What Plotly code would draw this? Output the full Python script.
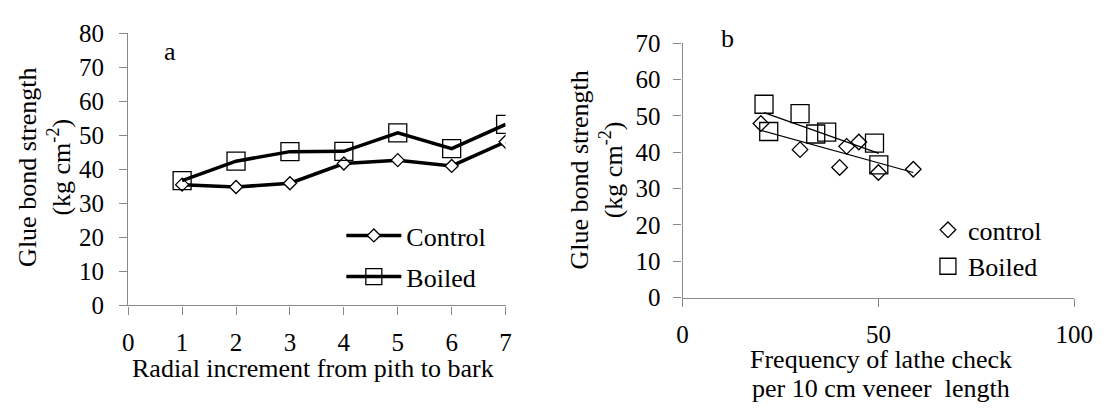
import numpy as np
import plotly.graph_objects as go

# ---- data (panel a) ----
increments = [1, 2, 3, 4, 5, 6, 7]
control_a = [35.5, 34.8, 35.9, 41.7, 42.7, 41.0, 48.1]
boiled_a = [36.7, 42.4, 45.2, 45.3, 50.7, 46.1, 53.2]

# ---- data (panel b) ----
check_control = [20.0, 30.0, 40.1, 41.9, 45.0, 50.0, 58.9]
strength_control = [47.9, 40.7, 35.8, 41.6, 42.8, 34.4, 35.3]
check_boiled = [20.8, 22.0, 30.0, 34.0, 36.8, 49.0, 50.1]
strength_boiled = [53.2, 45.7, 50.6, 45.0, 45.5, 42.5, 36.5]

xticks_a = [0, 1, 2, 3, 4, 5, 6, 7]
yticks_a = [0, 10, 20, 30, 40, 50, 60, 70, 80]
xticks_b = [0, 50, 100]
yticks_b = [0, 10, 20, 30, 40, 50, 60, 70]

FONT = "Liberation Serif"
FS = 26      # titles, legend, panel letters
FS_TICK = 25
AX = "#898989"
W, H = 1119, 415

fig = go.Figure()

# panel a
fig.add_trace(go.Scatter(x=increments, y=control_a, mode="lines+markers", name="Control",
                         line=dict(color="black", width=3.5),
                         marker=dict(symbol="diamond", size=10, color="white",
                                     line=dict(color="black", width=1.3)),
                         xaxis="x", yaxis="y", legend="legend"))
fig.add_trace(go.Scatter(x=increments, y=boiled_a, mode="lines+markers", name="Boiled",
                         line=dict(color="black", width=3.5),
                         marker=dict(symbol="square-open", size=18, color="black",
                                     line=dict(color="black", width=1.3)),
                         xaxis="x", yaxis="y", legend="legend2"))

# panel b
fig.add_trace(go.Scatter(x=check_control, y=strength_control, mode="markers", name="control",
                         marker=dict(symbol="diamond-open", size=12, color="black",
                                     line=dict(color="black", width=1.3)),
                         xaxis="x2", yaxis="y2", legend="legend3"))
fig.add_trace(go.Scatter(x=check_boiled, y=strength_boiled, mode="markers", name="Boiled",
                         marker=dict(symbol="square-open", size=18, color="black",
                                     line=dict(color="black", width=1.3)),
                         xaxis="x2", yaxis="y2", legend="legend4"))

# linear trend lines computed from the data
for xs, ys in [(check_boiled, strength_boiled), (check_control, strength_control)]:
    m, b = np.polyfit(xs, ys, 1)
    xr = np.array([min(xs), max(xs)])
    fig.add_trace(go.Scatter(x=xr, y=m * xr + b, mode="lines", showlegend=False,
                             line=dict(color="black", width=1.2),
                             xaxis="x2", yaxis="y2", hoverinfo="skip"))

def px_x(p):
    return p / W

def px_y(p):
    return 1 - p / H

axis_common = dict(showline=True, linecolor=AX, linewidth=1.3, ticks="outside",
                   tickcolor=AX, tickwidth=1.3, ticklen=8, showgrid=False, zeroline=False,
                   tickfont=dict(family=FONT, size=FS_TICK, color="black"))

leg_common = dict(xanchor="left", yanchor="middle", bgcolor="rgba(0,0,0,0)",
                  font=dict(family=FONT, size=FS, color="black"))

fig.update_layout(
    width=W, height=H,
    margin=dict(l=0, r=0, t=0, b=0),
    paper_bgcolor="white", plot_bgcolor="white",
    font=dict(family=FONT, size=FS, color="black"),
    xaxis=dict(domain=[px_x(125), px_x(511)], range=[0, 7], tickvals=xticks_a,
               anchor="y", ticklabelstandoff=6, **axis_common),
    yaxis=dict(domain=[px_y(312.7), px_y(21.7)], range=[0, 80], tickvals=yticks_a,
               anchor="x", ticklabelstandoff=10, **axis_common),
    xaxis2=dict(domain=[px_x(692), px_x(1092.7)], range=[0, 100], tickvals=xticks_b,
                anchor="y2", ticklabelstandoff=6, **axis_common),
    yaxis2=dict(domain=[px_y(304.3), px_y(32.3)], range=[0, 70], tickvals=yticks_b,
                anchor="x2", ticklabelstandoff=8, **axis_common),
    legend=dict(x=px_x(343), y=px_y(238), itemwidth=55, **leg_common),
    legend2=dict(x=px_x(343), y=px_y(282), itemwidth=55, **leg_common),
    legend3=dict(x=px_x(943), y=px_y(232), **leg_common),
    legend4=dict(x=px_x(943), y=px_y(271), **leg_common),
)

ann = dict(xref="paper", yref="paper", showarrow=False, font=dict(family=FONT, size=FS, color="black"))
fig.add_annotation(text="Glue bond strength<br>(kg cm<sup>-2</sup>)", textangle=-90,
                   x=px_x(39.5), y=px_y(165), xanchor="center", yanchor="middle", **ann)
fig.add_annotation(text="Glue bond strength<br>(kg cm<sup>-2</sup>)", textangle=-90,
                   x=px_x(604), y=px_y(168), xanchor="center", yanchor="middle", **ann)
fig.add_annotation(text="Radial increment from pith to bark",
                   x=px_x(314), y=px_y(380.5), xanchor="center", yanchor="middle", **ann)
fig.add_annotation(text="Frequency of lathe check",
                   x=px_x(895), y=px_y(370.2), xanchor="center", yanchor="middle", **ann)
fig.add_annotation(text="per 10 cm veneer  length",
                   x=px_x(895), y=px_y(401.2), xanchor="center", yanchor="middle", **ann)
fig.add_annotation(text="a", x=px_x(168), y=px_y(41.2), xanchor="center", yanchor="middle", **ann)
fig.add_annotation(text="b", x=px_x(738), y=px_y(26.9), xanchor="center", yanchor="middle", **ann)

fig.write_html("out.html", post_script="document.body.style.margin='0';")
